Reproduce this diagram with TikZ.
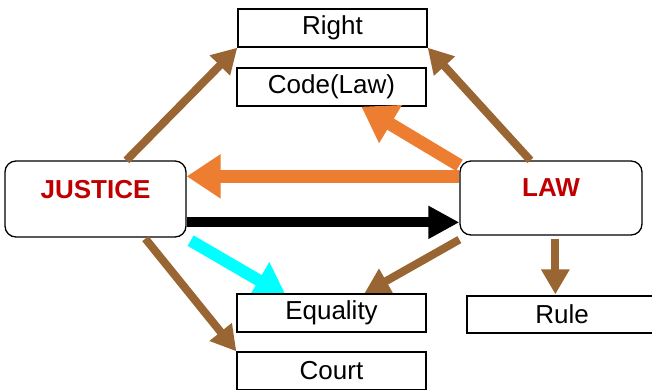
\documentclass[tikz,border=0pt]{standalone}
\usepackage{fontspec}
\setmainfont{Liberation Sans}
\usetikzlibrary{arrows.meta,calc}
\definecolor{brn}{RGB}{153,102,51}
\definecolor{org}{RGB}{237,125,49}
\definecolor{redt}{RGB}{192,0,0}
\definecolor{cyn}{RGB}{0,255,255}
\tikzset{
  box/.style={draw=black,line width=1.3pt,fill=white,minimum width=189pt,minimum height=38pt,inner sep=0pt,font=\fontsize{26}{30}\selectfont},
  bigbox/.style={draw=black,line width=1.3pt,fill=white,rounded corners=11pt,inner sep=0pt,font=\fontsize{26}{30}\selectfont\bfseries,text=redt},
  brarrow/.style={draw=brn,line width=8pt,-{Triangle[width=27pt,length=25pt]}},
  orarrow/.style={draw=org,line width=13pt,-{Triangle[width=42pt,length=34pt]}},
  blarrow/.style={draw=black,line width=10pt,-{Triangle[width=31pt,length=31pt]}},
  cyarrow/.style={draw=cyn,line width=12pt,-{Triangle[width=40pt,length=32pt]}}
}
\begin{document}
\begin{tikzpicture}[x=1pt,y=-1pt]
\useasboundingbox (0,0) rectangle (652,389);
% boxes
\node[box] (R) at (332.5,28) {Right};
\node[box] (C) at (331.5,87) {Code(Law)};
\node[bigbox,minimum width=181pt,minimum height=76pt] (J) at (95.5,199) {\raisebox{20pt}{JUSTICE}};
\node[bigbox,minimum width=182pt,minimum height=74pt] (L) at (551,198) {\raisebox{20pt}{LAW}};
% arrows
\draw[brarrow] ($(J.north west)+(122,0)$) -- (R.south west);
\draw[brarrow] ($(L.north west)+(71,0)$) -- (R.south east);
\draw[orarrow] ($(L.north west)+(0,5)$) -- ($(C.south west)+(125,0)$);
\draw[orarrow] ($(L.north west)+(0,16)$) -- ($(J.north east)+(0,16)$);
\draw[blarrow] ($(J.north east)+(0,62)$) -- ($(L.north west)+(0,62)$);
\node[box] (E) at (331.5,313) {};
\draw[cyarrow] ($(J.south east)+(4,3)$) -- ($(E.north west)+(50,3)$);
\draw[brarrow] ($(L.south west)+(0,4)$) -- ($(E.north west)+(128,0)$);
\draw[brarrow] ($(J.south west)+(141,1)$) -- ($(E.north west)+(0,58)$) coordinate (ct);
\node[box] (E2) at (331.5,313) {Equality};
\node[box,anchor=north west] (Ct) at (ct) {Court};
\node[box,minimum width=190pt,minimum height=37pt] (Ru) at (562,314.5) {Rule};
\draw[brarrow] ($(L.south west)+(96,3)$) -- ($(Ru.north west)+(89,-1)$);
\end{tikzpicture}
\end{document}
